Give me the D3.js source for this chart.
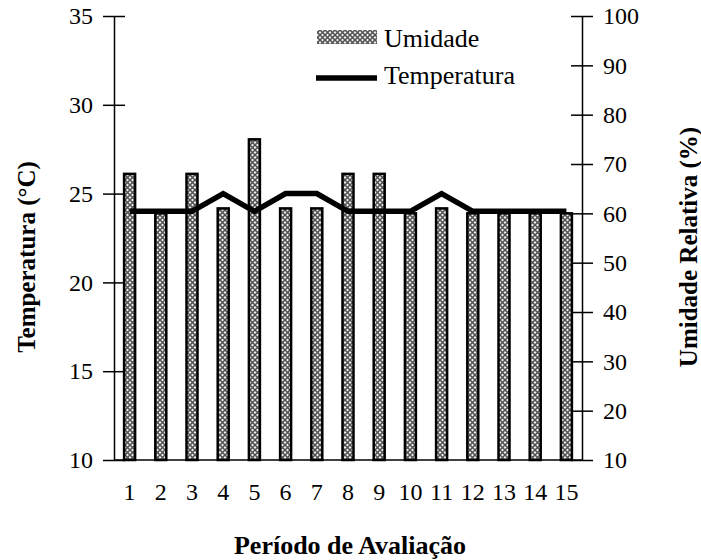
<!DOCTYPE html>
<style>
body {
  margin: 0;
  background: #fff;
}
svg text {
  font-family: 'Liberation Serif', 'Times New Roman', serif;
}
.axis .domain {
  stroke: #000;
  stroke-width: 1.5;
}
.axis line {
  stroke: #000;
  stroke-width: 1.5;
}
.axis text {
  font-size: 24px;
  fill: #000;
}
</style>
<svg width="701" height="560" font-family="Liberation Serif"></svg>
<script src="https://d3js.org/d3.v7.min.js"></script>
<script>
// data
var periods = ["1", "2", "3", "4", "5", "6", "7", "8", "9", "10", "11", "12", "13", "14", "15"];
var umidade = [68, 60, 68, 61, 75, 61, 61, 68, 68, 60, 61, 60, 60, 60, 60];
var temperatura = [24, 24, 24, 25, 24, 25, 25, 24, 24, 24, 25, 24, 24, 24, 24];
var tempTicks = [10, 15, 20, 25, 30, 35];
var umidTicks = [10, 20, 30, 40, 50, 60, 70, 80, 90, 100];

var serif = "'Liberation Serif', 'Times New Roman', serif";
var svg = d3.select("svg");

var plotLeft = 114, plotRight = 582, plotTop = 16, plotBottom = 460;

// scales
var x = d3.scaleBand()
    .domain(periods)
    .range([plotLeft, plotRight])
    .padding(0);

var yT = d3.scaleLinear()
    .domain([10, 35])
    .range([plotBottom, plotTop]);

var yU = d3.scaleLinear()
    .domain([10, 100])
    .range([plotBottom, plotTop]);

// crosshatch pattern for the bars
var defs = svg.append("defs");
var pat = defs.append("pattern")
    .attr("id", "hatch")
    .attr("patternUnits", "userSpaceOnUse")
    .attr("width", 5)
    .attr("height", 5);
pat.append("rect").attr("width", 5).attr("height", 5).attr("fill", "#eeeeee");
pat.append("path")
    .attr("d", "M0,0 L5,5 M5,0 L0,5")
    .attr("stroke", "#505050")
    .attr("stroke-width", 1.5);

// bars (umidade on right axis)
var barW = 11;
svg.append("g")
  .selectAll("rect")
  .data(umidade)
  .enter().append("rect")
    .attr("x", function(d, i) { return x(periods[i]) + x.bandwidth() / 2 - barW / 2; })
    .attr("y", function(d) { return yU(d); })
    .attr("width", barW)
    .attr("height", function(d) { return yU(10) - yU(d); })
    .attr("fill", "url(#hatch)")
    .attr("stroke", "#000")
    .attr("stroke-width", 2.5);

// bottom line
svg.append("line")
    .attr("x1", plotLeft).attr("x2", plotRight)
    .attr("y1", plotBottom).attr("y2", plotBottom)
    .attr("stroke", "#000")
    .attr("stroke-width", 1.5);

// temperature line (left axis)
var line = d3.line()
    .x(function(d, i) { return x(periods[i]) + x.bandwidth() / 2; })
    .y(function(d) { return yT(d); });

svg.append("path")
    .datum(temperatura)
    .attr("d", line)
    .attr("fill", "none")
    .attr("stroke", "#000")
    .attr("stroke-width", 5.5)
    .attr("stroke-linejoin", "miter");

// left axis
var gL = svg.append("g")
    .attr("class", "axis")
    .attr("transform", "translate(" + plotLeft + ",0)")
    .call(d3.axisLeft(yT).tickValues(tempTicks).tickSizeOuter(0).tickSizeInner(11).tickPadding(10))
    .attr("font-family", serif)
    .attr("font-size", 24);
gL.selectAll(".tick line").attr("x1", 11);

// right axis
var gR = svg.append("g")
    .attr("class", "axis")
    .attr("transform", "translate(" + plotRight + ",0)")
    .call(d3.axisRight(yU).tickValues(umidTicks).tickSizeOuter(0).tickSizeInner(11).tickPadding(10))
    .attr("font-family", serif)
    .attr("font-size", 24);
gR.selectAll(".tick line").attr("x1", -11);

// x labels
svg.append("g")
  .selectAll("text")
  .data(periods)
  .enter().append("text")
    .attr("x", function(d) { return x(d) + x.bandwidth() / 2; })
    .attr("y", 500)
    .attr("text-anchor", "middle")
    .attr("font-family", serif)
    .attr("font-size", 24)
    .text(function(d) { return d; });

// axis titles
svg.append("text")
    .attr("transform", "translate(35,257) rotate(-90)")
    .attr("text-anchor", "middle")
    .attr("font-family", serif)
    .attr("font-size", 25)
    .attr("font-weight", "bold")
    .text("Temperatura (°C)");

svg.append("text")
    .attr("transform", "translate(697,247) rotate(-90)")
    .attr("text-anchor", "middle")
    .attr("font-family", serif)
    .attr("font-size", 25)
    .attr("font-weight", "bold")
    .text("Umidade Relativa (%)");

svg.append("text")
    .attr("x", 350)
    .attr("y", 554)
    .attr("text-anchor", "middle")
    .attr("font-family", serif)
    .attr("font-size", 26)
    .attr("font-weight", "bold")
    .text("Período de Avaliação");

// legend
var legend = svg.append("g").attr("font-family", serif);
legend.append("rect")
    .attr("x", 317).attr("y", 30)
    .attr("width", 60).attr("height", 14)
    .attr("fill", "url(#hatch)");
legend.append("text")
    .attr("x", 384).attr("y", 47)
    .attr("font-size", 26)
    .text("Umidade");
legend.append("line")
    .attr("x1", 316).attr("x2", 377)
    .attr("y1", 78).attr("y2", 78)
    .attr("stroke", "#000")
    .attr("stroke-width", 5.5);
legend.append("text")
    .attr("x", 384).attr("y", 84)
    .attr("font-size", 26)
    .text("Temperatura");
</script>
